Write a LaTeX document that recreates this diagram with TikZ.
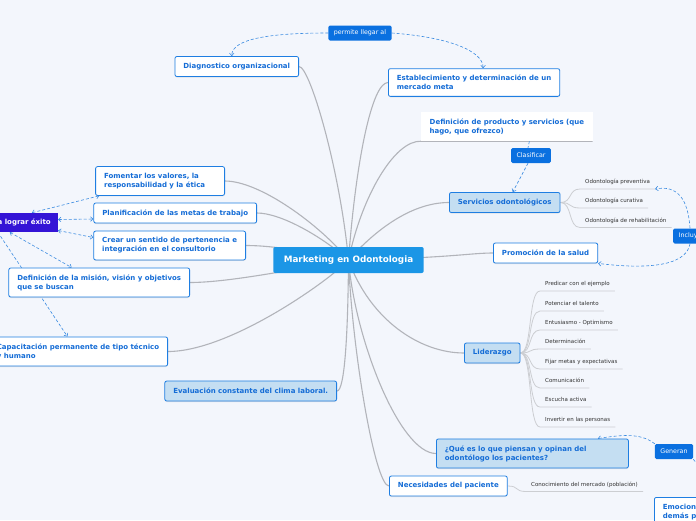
\documentclass[tikz,border=0pt]{standalone}
\usepackage{fontspec}
\setmainfont{DejaVu Sans}
\usetikzlibrary{arrows.meta,backgrounds,shadows}

\begin{document}
\begin{tikzpicture}[x=1pt,y=-1pt,
    topic/.style={draw=nodeborder,line width=0.8pt,rounded corners=2pt,fill=white,
      text=nodetext,font=\fontsize{7}{9}\selectfont\bfseries,align=left,
      inner xsep=8.5pt,inner ysep=6.5pt,minimum height=20pt,
      drop shadow={opacity=0.18,shadow xshift=0pt,shadow yshift=-1pt}},
    topicfill/.style={topic,fill=lightfill},
    plaintopic/.style={fill=white,text=nodetext,font=\fontsize{7}{9}\selectfont\bfseries,
      align=left,inner xsep=8.5pt,inner ysep=6.5pt},
    tag/.style={fill=tagblue,rounded corners=1.5pt,text=white,font=\fontsize{6.3}{7}\selectfont,
      inner xsep=5.5pt,inner ysep=0pt,minimum height=15pt},
    leaf/.style={anchor=south west,text=leaftext,font=\fontsize{5.5}{6}\selectfont,
      inner xsep=5pt,inner ysep=4pt,text height=4pt,text depth=1pt},
    branch/.style={draw=branchgray,line width=1.1pt},
    twig/.style={draw=leafgray,line width=0.8pt},
    dline/.style={draw=dashblue,line width=0.6pt,dash pattern=on 3pt off 2pt},
    dlink/.style={dline,-{Straight Barb[length=2.5pt,width=4.5pt]}},
    dlinkboth/.style={dline,{Straight Barb[length=2.5pt,width=4.5pt]}-{Straight Barb[length=2.5pt,width=4.5pt]}},
]
\definecolor{bgcol}{RGB}{243,246,252}
\definecolor{ctrblue}{RGB}{27,150,230}
\definecolor{tagblue}{RGB}{10,112,224}
\definecolor{nodeborder}{RGB}{30,126,226}
\definecolor{nodetext}{RGB}{20,108,214}
\definecolor{lightfill}{RGB}{196,222,242}
\definecolor{indigo}{RGB}{52,20,214}
\definecolor{branchgray}{RGB}{178,180,186}
\definecolor{leafgray}{RGB}{204,206,210}
\definecolor{leaftext}{RGB}{50,50,50}
\definecolor{dashblue}{RGB}{60,140,225}

\useasboundingbox (0,0) rectangle (696,520);

%%%%%%%%%%%%%%%% central topic
\node[fill=ctrblue,rounded corners=2pt,text=white,font=\fontsize{8.8}{10}\selectfont\bfseries,
  inner xsep=10.5pt,minimum height=26pt] (ctr) at (348.5,260) {Marketing en Odontologia};

%%%%%%%%%%%%%%%% right side
\node[topic,anchor=east] (diag) at (299,66.5) {Diagnostico organizacional};
\node[topic,anchor=west] (estab) at (388,82.5) {Establecimiento y determinación de un\\mercado meta};
\node[plaintopic,anchor=west] (defp) at (421,126.5) {Definición de producto y servicios (que\\hago, que ofrezco)};
\node[topicfill,anchor=west] (serv) at (449,202.5) {Servicios odontológicos};
\node[topic,anchor=west] (prom) at (493,253) {Promoción de la salud};
\node[topicfill,anchor=west] (lid) at (464,353) {Liderazgo};
\node[topicfill,anchor=west,text width=175pt] (que) at (436,453.5) {¿Qué es lo que piensan y opinan del\\odontólogo los pacientes?};
\node[topic,anchor=west] (nec) at (389,486) {Necesidades del paciente};
\node[topic,anchor=north west] (emo) at (654,497) {Emociones\\demás p};

%%%%%%%%%%%%%%%% left side
\node[fill=indigo,text=white,font=\fontsize{7}{9}\selectfont\bfseries,text width=110pt,
  align=right,inner xsep=7pt,minimum height=19pt,anchor=east] (exito) at (58,222.5) {a lograr éxito};
\node[topic,anchor=east,text width=112pt] (fom) at (225,181) {Fomentar los valores, la\\responsabilidad y la ética};
\node[topic,anchor=east] (plan) at (257,213) {Planificación de las metas de trabajo};
\node[topic,anchor=east] (crear) at (246,245.5) {Crear un sentido de pertenencia e\\integración en el consultorio};
\node[topic,anchor=east] (mision) at (190,282.5) {Definición de la misión, visión y objetivos\\que se buscan};
\node[topic,anchor=east] (capa) at (168,351.5) {Capacitación permanente de tipo técnico\\y humano};
\node[topicfill,anchor=east] (eval) at (337,391) {Evaluación constante del clima laboral.};

%%%%%%%%%%%%%%%% tags
\node[tag] (perm) at (360,33) {permite llegar al};
\node[tag] (clas) at (531,155.5) {Clasificar};
\node[tag,anchor=west] (incl) at (673,236) {Incluye};
\node[tag] (gen) at (674,451.5) {Generan};

%%%%%%%%%%%%%%%% leaves
\node[leaf] (pv) at (580,189) {Odontología preventiva};
\node[leaf] (cu) at (580,208) {Odontología curativa};
\node[leaf] (re) at (580,227.5) {Odontología de rehabilitación};

\node[leaf] (l1) at (540,291) {Predicar con el ejemplo};
\node[leaf] (l2) at (540,311) {Potenciar el talento};
\node[leaf] (l3) at (540,330) {Entusiasmo - Optimismo};
\node[leaf] (l4) at (540,349) {Determinación};
\node[leaf] (l5) at (540,369) {Fijar metas y expectativas};
\node[leaf] (l6) at (540,388) {Comunicación};
\node[leaf] (l7) at (540,407) {Escucha activa};
\node[leaf] (l8) at (540,427) {Invertir en las personas};

\node[leaf] (mkt) at (526,491.5) {Conocimiento del mercado (población)};

\begin{scope}[on background layer]
\fill[bgcol] (0,0) rectangle (696,520);

%% branches
\draw[branch] (ctr.center) .. controls (340,170) and (310,66.5) .. (diag.east);
\draw[branch] (ctr.center) .. controls (356,160) and (372,82.5) .. (estab.west);
\draw[branch] (ctr.center) .. controls (362,195) and (395,140) .. (defp.south west) -- (defp.south east);
\draw[branch] (ctr.center) .. controls (380,225) and (415,202.5) .. (serv.west);
\draw[branch] (ctr.center) .. controls (450,258) and (470,253) .. (prom.west);
\draw[branch] (ctr.center) .. controls (370,320) and (420,353) .. (lid.west);
\draw[branch] (ctr.center) .. controls (355,340) and (400,453.5) .. (que.west);
\draw[branch] (ctr.center) .. controls (352,350) and (375,486) .. (nec.west);
\draw[branch] (ctr.center) .. controls (348,330) and (345,391) .. (eval.east);
\draw[branch] (ctr.center) .. controls (330,280) and (230,351.5) .. (capa.east);
\draw[branch] (ctr.center) .. controls (300,268) and (230,282.5) .. (mision.east);
\draw[branch] (ctr.center) .. controls (300,250) and (270,245.5) .. (crear.east);
\draw[branch] (ctr.center) .. controls (320,235) and (280,213) .. (plan.east);
\draw[branch] (ctr.center) .. controls (320,225) and (260,181) .. (fom.east);

%% twigs
\draw[twig] (serv.east) .. controls +(12,0) and +(-12,0) .. (pv.south west) -- (pv.south east);
\draw[twig] (serv.east) .. controls +(12,0) and +(-12,0) .. (cu.south west) -- (cu.south east);
\draw[twig] (serv.east) .. controls +(12,0) and +(-12,0) .. (re.south west) -- (re.south east);
\draw[twig] (lid.east) .. controls +(12,0) and +(-12,0) .. (l1.south west) -- (l1.south east);
\draw[twig] (lid.east) .. controls +(12,0) and +(-12,0) .. (l2.south west) -- (l2.south east);
\draw[twig] (lid.east) .. controls +(12,0) and +(-12,0) .. (l3.south west) -- (l3.south east);
\draw[twig] (lid.east) .. controls +(12,0) and +(-12,0) .. (l4.south west) -- (l4.south east);
\draw[twig] (lid.east) .. controls +(12,0) and +(-12,0) .. (l5.south west) -- (l5.south east);
\draw[twig] (lid.east) .. controls +(12,0) and +(-12,0) .. (l6.south west) -- (l6.south east);
\draw[twig] (lid.east) .. controls +(12,0) and +(-12,0) .. (l7.south west) -- (l7.south east);
\draw[twig] (lid.east) .. controls +(12,0) and +(-12,0) .. (l8.south west) -- (l8.south east);
\draw[twig] (nec.east) .. controls +(12,0) and +(-12,0) .. (mkt.south west) -- (mkt.south east);

%% dashed links
\draw[dlink] (perm.west) .. controls +(-55,0) and +(0,-18) .. ([xshift=-5pt]diag.north);
\draw[dlink] (perm.east) .. controls +(55,4) and +(0,-18) .. ([xshift=9pt]estab.north);
\draw[dline] ([xshift=22.5pt]defp.south) -- ([xshift=-3pt]clas.north);
\draw[dlink] ([xshift=-3pt]clas.south) -- ([xshift=8pt]serv.north);
\draw[dlink] (incl.north) .. controls +(-2,-30) and +(22,-4) .. (pv.south east);
\draw[dlink] (incl.south) .. controls +(-4,25) and +(40,5) .. (prom.south east);
\draw[dlink] (gen.north west) .. controls +(-15,-12) and +(20,-3) .. ([xshift=-31pt]que.north east);
\draw[dlink] (gen.south east) .. controls +(8,10) and +(0,-15) .. (emo.north east);

\draw[dlinkboth] ([xshift=36pt]exito.north) -- ([xshift=4pt]fom.south west);
\draw[dlinkboth] ([yshift=3pt]exito.east) -- ([yshift=-6pt]plan.west);
\draw[dlinkboth] ([yshift=-8pt]exito.east) -- ([yshift=8pt]crear.west);
\draw[dlinkboth] ([xshift=14pt]exito.south) -- ([xshift=-27.5pt]mision.north);
\draw[dlink] ([xshift=2pt]exito.south) -- ([xshift=-10.5pt]capa.north);
\end{scope}

\end{tikzpicture}
\end{document}
